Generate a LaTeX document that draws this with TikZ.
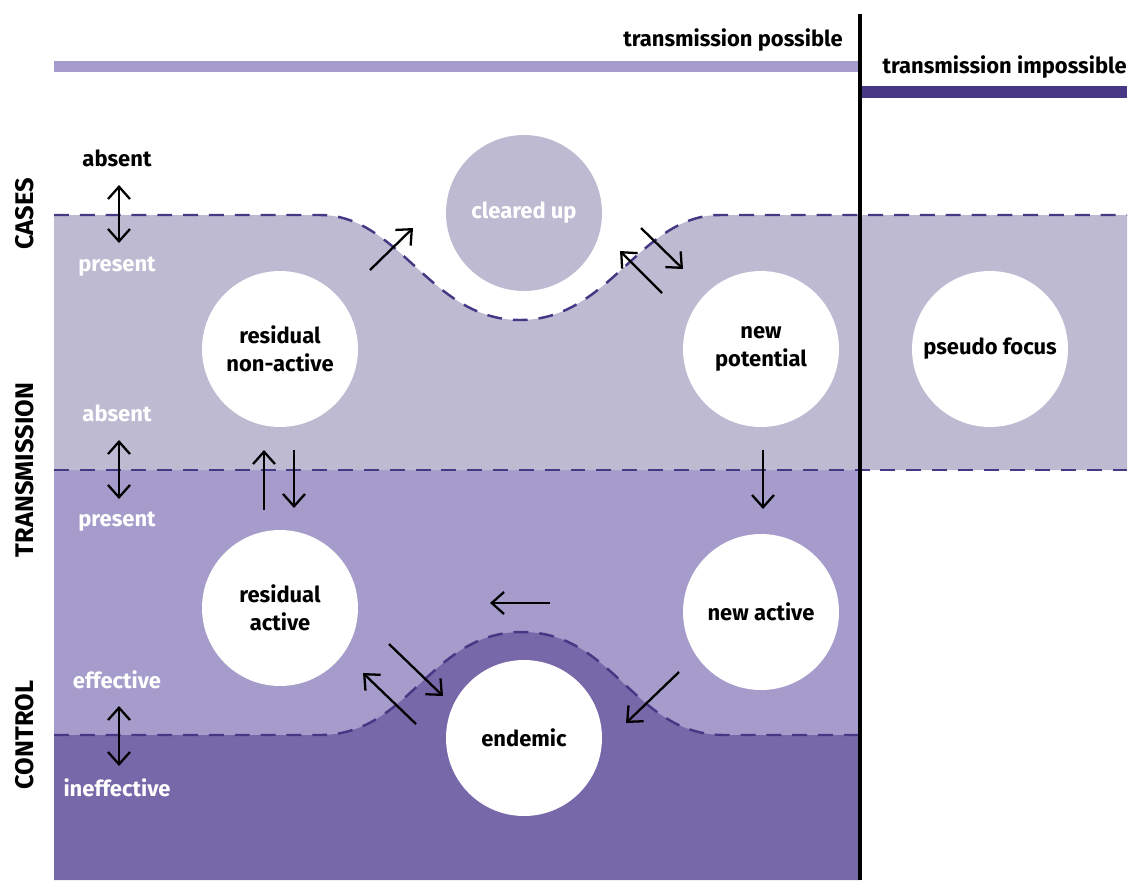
\documentclass[tikz,border=0pt]{standalone}
\usepackage{fontspec}
\setmainfont{Fira Sans}
\usetikzlibrary{arrows.meta}
\definecolor{lavA}{HTML}{BDBAD2}
\definecolor{lavB}{HTML}{A59CCB}
\definecolor{lavC}{HTML}{7769A9}
\definecolor{darkP}{HTML}{463884}
\tikzset{
  lbl/.style={font=\fontsize{12.5}{15.8}\selectfont\bfseries, inner sep=0pt, align=center},
  side/.style={font=\fontsize{14.5}{16}\selectfont\bfseries, inner sep=0pt, rotate=90},
  wl/.style={lbl, text=white},
  bubble/.style={circle, fill=white, minimum size=3.12cm, inner sep=0pt, lbl},
  bnd/.style={darkP, line width=1.4pt, dash pattern=on 8.5pt off 6.2pt},
  barb/.tip={Straight Barb[length=7pt,width=12.5pt,line width=1.3pt]},
  arr/.style={line width=1.3pt, -{barb}},
  darr/.style={line width=1.3pt, {barb}-{barb}},
}
\begin{document}
\begin{tikzpicture}[x=0.02cm,y=-0.02cm]
\useasboundingbox (0,0) rectangle (1131,880);
% bands
\fill[lavB] (54,470) rectangle (860,880);
\fill[lavC] (54,735) -- (320,735) .. controls (410,735) and (430,632) .. (522,632)
  .. controls (614,632) and (634,735) .. (724,735) -- (860,735) -- (860,880) -- (54,880) -- cycle;
\fill[lavA] (54,215) -- (320,215) .. controls (400,215) and (430,320) .. (520,320)
  .. controls (610,320) and (640,215) .. (720,215) -- (1127,215) -- (1127,470) -- (54,470) -- cycle;
% boundaries
\draw[bnd] (54,215) -- (320,215) .. controls (400,215) and (430,320) .. (520,320)
  .. controls (610,320) and (640,215) .. (720,215) -- (1127,215);
\draw[bnd] (54,470) -- (1127,470);
\draw[bnd] (54,735) -- (320,735) .. controls (410,735) and (430,632) .. (522,632)
  .. controls (614,632) and (634,735) .. (724,735) -- (858,735);
% top bars
\fill[lavB] (54,61) rectangle (858,72);
\fill[darkP] (862,86) rectangle (1127,98);
\draw[line width=2.3pt] (860,14) -- (860,880);
\node[lbl, anchor=east] (tp) at (843,40) {transmission possible};
\node[lbl, anchor=east] (ti) at (1127,67) {transmission impossible};
% circles
\node[bubble] (rna) at (280,349) {residual\\non-active};
\node[bubble] (np) at (761,349) {new\\potential};
\node[bubble] (pf) at (990,349) {pseudo focus};
\node[bubble, fill=lavA, text=white] (cu) at (524,213) {cleared up};
\node[bubble] (ra) at (280,608) {residual\\active};
\node[bubble] (na) at (761,612) {new active};
\node[bubble] (en) at (524,738) {endemic};
% left labels
\node[side] (cases) at (25,214) {CASES};
\node[side] (trans) at (25,470) {TRANSMISSION};
\node[side] (ctrl) at (25,735) {CONTROL};
\node[lbl] (ca) at (117,158) {absent};
\node[wl] (cp) at (117,267) {present};
\node[wl] (ta) at (117,413) {absent};
\node[wl] (tpr) at (117,522) {present};
\node[wl] (ce) at (117,680) {effective};
\node[wl] (ci) at (117,788) {ineffective};
% left double arrows
\coordinate (d1a) at (119,185); \coordinate (d1b) at (119,243);
\coordinate (d2a) at (119,440); \coordinate (d2b) at (119,499);
\coordinate (d3a) at (119,706); \coordinate (d3b) at (119,766);
\draw[darr] (d1a) -- (d1b);
\draw[darr] (d2a) -- (d2b);
\draw[darr] (d3a) -- (d3b);
% transition arrows
\coordinate (a1s) at (370,270); \coordinate (a1e) at (413,228);
\coordinate (a2s) at (641,228); \coordinate (a2e) at (683,269);
\coordinate (a3s) at (662,293); \coordinate (a3e) at (620,251);
\coordinate (a4s) at (264,510); \coordinate (a4e) at (264,450);
\coordinate (a5s) at (294,450); \coordinate (a5e) at (294,508);
\coordinate (a6s) at (763,450); \coordinate (a6e) at (763,509);
\coordinate (a7s) at (550,603); \coordinate (a7e) at (490,603);
\coordinate (a8s) at (389,644); \coordinate (a8e) at (443,696);
\coordinate (a9s) at (416,724); \coordinate (a9e) at (363,673);
\coordinate (a10s) at (679,672); \coordinate (a10e) at (626,723);
\foreach \i in {1,...,10} { \draw[arr] (a\i s) -- (a\i e); }
\end{tikzpicture}
\end{document}
